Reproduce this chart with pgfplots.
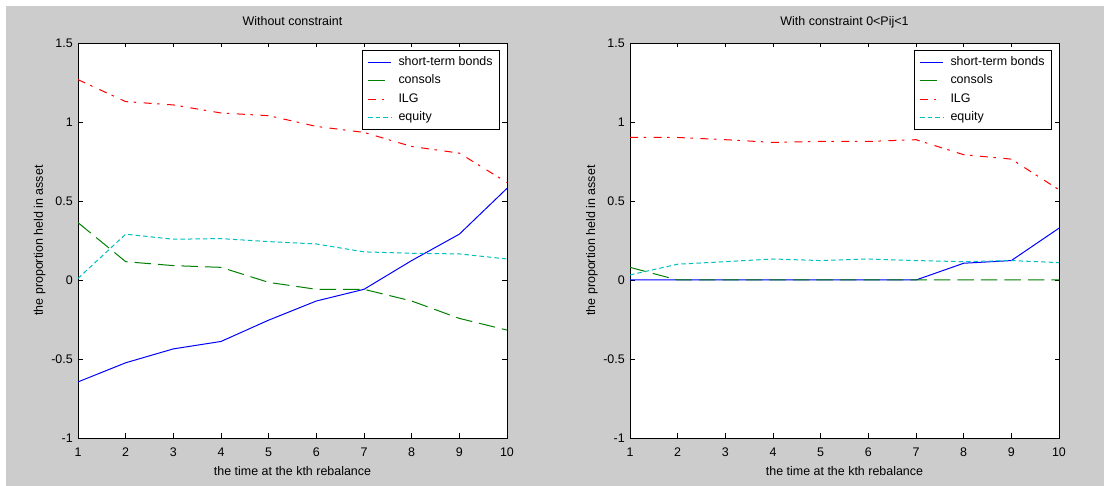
\documentclass[border=0pt]{standalone}
\usepackage{fontspec}
\setmainfont{Liberation Sans}
\usepackage{pgfplots}
\pgfplotsset{compat=1.18}
\usepackage{pgfplotstable}

\definecolor{figgray}{HTML}{CCCCCC}
\definecolor{mblue}{rgb}{0,0,1}
\definecolor{mgreen}{rgb}{0,0.5,0}
\definecolor{mred}{rgb}{1,0,0}
\definecolor{mcyan}{rgb}{0,0.75,0.75}

\pgfplotstableread{
x sb co ilg eq
1 -0.645 0.363 1.268 0.01
2 -0.524 0.116 1.129 0.29
3 -0.436 0.091 1.108 0.258
4 -0.389 0.080 1.057 0.262
5 -0.254 -0.015 1.040 0.243
6 -0.133 -0.059 0.972 0.228
7 -0.059 -0.059 0.934 0.178
8 0.123 -0.133 0.845 0.169
9 0.290 -0.243 0.803 0.165
10 0.580 -0.317 0.617 0.133
}\lefttab

\pgfplotstableread{
x sb co ilg eq
1 0 0.080 0.902 0.032
2 0 0 0.902 0.100
3 0 0 0.888 0.116
4 0 0 0.871 0.133
5 0 0 0.877 0.123
6 0 0 0.877 0.133
7 0 0 0.888 0.123
8 0.106 0 0.793 0.116
9 0.123 0 0.765 0.123
10 0.328 0 0.571 0.110
}\righttab

\newcommand{\mfont}{\fontsize{12.5}{15}\selectfont}

\pgfplotsset{
  matpanel/.style={
    scale only axis, width=429bp, height=395bp, anchor=south west,
    xmin=1, xmax=10, ymin=-1, ymax=1.5,
    xtick={1,2,3,4,5,6,7,8,9,10},
    xticklabels={1,2,3,4,5,6,7,8,9,10},
    ytick={-1,-0.5,0,0.5,1,1.5},
    yticklabels={-1,-0.5,0,0.5,1,1.5},
    tick align=inside, major tick length=4.5bp,
    tick style={black, line width=0.7bp},
    axis line style={black, line width=0.8bp},
    axis background/.style={fill=white},
    ticklabel style={font=\mfont, inner sep=0pt},
    xticklabel style={anchor=base, yshift=-18bp},
    yticklabel style={anchor=east, xshift=-5bp},
    title style={at={(axis description cs:0.5,1.0304)}, anchor=base, font=\mfont, inner sep=0pt},
    xlabel style={at={(axis description cs:0.5,-0.0937)}, anchor=base, font=\mfont, inner sep=0pt},
    ylabel style={at={(axis description cs:-0.0816,0.5)}, anchor=base, font=\mfont, inner sep=0pt},
    xlabel={the time at the kth rebalance},
    ylabel={the proportion held in asset},
    legend style={at={(axis description cs:1,1)}, anchor=north east, xshift=-7bp, yshift=-7bp,
      draw=black, line width=0.7bp, fill=white, font=\mfont,
      inner xsep=5bp, inner ysep=4bp, row sep=3bp, column sep=5bp,
      nodes={inner sep=2bp, text height=9bp, text depth=2.5bp},
      cells={anchor=west}},
    legend image code/.code={\draw[#1, line width=1bp] (0bp,0bp) -- (23bp,0bp);},
    legend cell align=left,
  },
  sbst/.style={mblue, line width=1bp, solid},
  cost/.style={mgreen, line width=1bp, dash pattern=on 16.5bp off 7bp},
  ilgst/.style={mred, line width=1bp, dash pattern=on 8bp off 5.5bp on 2.5bp off 7.5bp},
  eqst/.style={mcyan, line width=1bp, dash pattern=on 4.5bp off 3bp},
}

\begin{document}
\begin{tikzpicture}
\fill[white] (0bp,0bp) rectangle (1104bp,486bp);
\fill[figgray] (6bp,0bp) rectangle (1104bp,480bp);

\begin{axis}[matpanel, at={(78bp,48bp)}, title={Without constraint}]
\addplot[sbst] table[x=x, y=sb] {\lefttab};
\addplot[cost] table[x=x, y=co] {\lefttab};
\addplot[ilgst] table[x=x, y=ilg] {\lefttab};
\addplot[eqst] table[x=x, y=eq] {\lefttab};
\legend{short-term bonds, consols, ILG, equity}
\end{axis}

\begin{axis}[matpanel, at={(630bp,48bp)}, title={With constraint 0<Pij<1}]
\addplot[sbst] table[x=x, y=sb] {\righttab};
\addplot[cost] table[x=x, y=co] {\righttab};
\addplot[ilgst] table[x=x, y=ilg] {\righttab};
\addplot[eqst] table[x=x, y=eq] {\righttab};
\legend{short-term bonds, consols, ILG, equity}
\end{axis}
\end{tikzpicture}
\end{document}
